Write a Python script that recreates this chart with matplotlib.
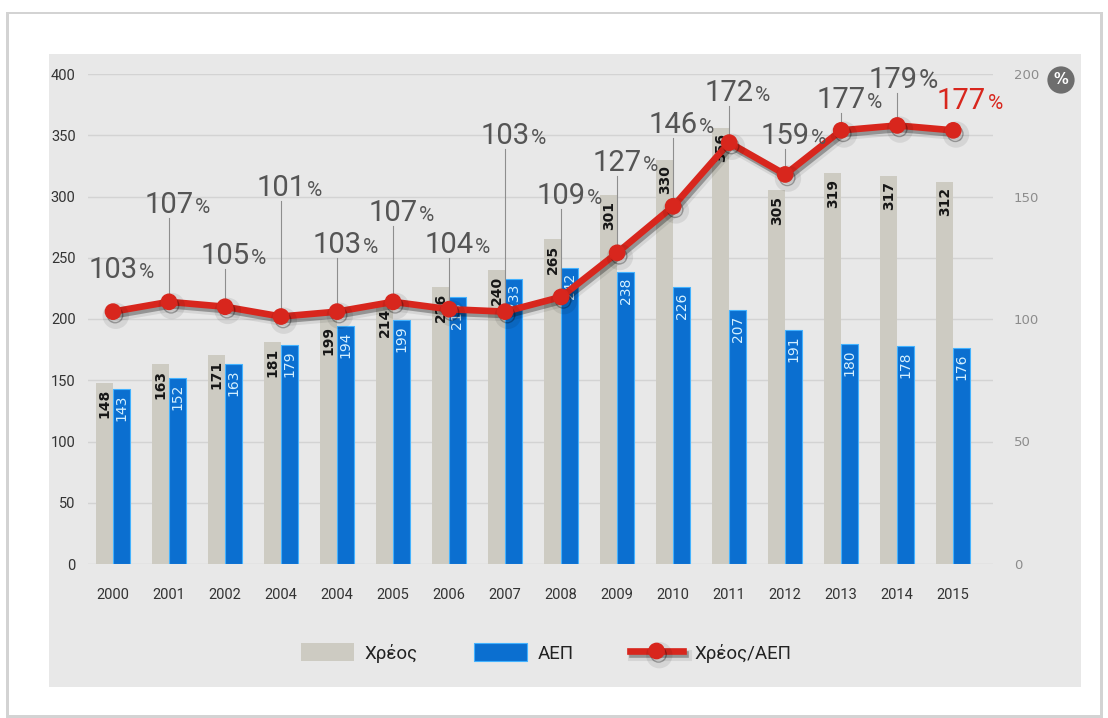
import matplotlib
matplotlib.use('Agg')
import matplotlib.pyplot as plt
import matplotlib.patheffects as pe
from matplotlib.patches import Rectangle, Patch
from matplotlib.lines import Line2D
import numpy as np

# Χρέος, ΑΕΠ (δισ. €) και λόγος Χρέος/ΑΕΠ (%)
years = ['2000', '2001', '2002', '2004', '2004', '2005', '2006', '2007',
         '2008', '2009', '2010', '2011', '2012', '2013', '2014', '2015']
debt = [148, 163, 171, 181, 199, 214, 226, 240, 265, 301, 330, 356, 305, 319, 317, 312]
gdp = [143, 152, 163, 179, 194, 199, 218, 233, 242, 238, 226, 207, 191, 180, 178, 176]
ratio = [103, 107, 105, 101, 103, 107, 104, 103, 109, 127, 146, 172, 159, 177, 179, 177]

# where each % label sits (baseline, on the % axis), sideways nudge in points,
# and the size of its "%" sign
label_base = [116.7, 143.3, 122.4, 150.2, 126.9, 140.0, 126.9, 171.4,
              146.9, 160.4, 175.9, 189.0, 171.4, 186.1, 194.3, 185.7]
label_dx = [0] * 14 + [-3, 6]
pct_size = [15] * 14 + [19, 15]

GREY_BAR = '#cdcbc2'
BLUE_BAR = '#0b6fd0'
RED = '#d8261d'
NARROW = ['Liberation Sans Narrow', 'Roboto', 'DejaVu Sans']
THIN = ['Roboto', 'DejaVu Sans']

W, H = 1108, 718
fig = plt.figure(figsize=(W / 100, H / 100), dpi=100)
fig.patch.set_facecolor('white')


def fx(px):
    return px / W


def fy(py):
    return 1 - py / H


def box(x0, y0, x1, y1, **kw):
    r = Rectangle((fx(x0), fy(y1)), fx(x1) - fx(x0), fy(y0) - fy(y1),
                  transform=fig.transFigure, zorder=-5, **kw)
    fig.patches.append(r)


# card with a faint shadow, then the grey panel
box(6, 12, 1103, 718, facecolor='#d3d3d3', edgecolor='none')
box(9, 14, 1100, 715, facecolor='white', edgecolor='none')
box(49, 54, 1081, 687, facecolor='#e8e8e8', edgecolor='none')

ax = fig.add_axes([fx(88), fy(564), (993 - 88) / W, (564 - 74) / H])
ax.set_facecolor('none')
x = np.arange(len(years))
bw = 0.30

ax.bar(x - bw / 2, debt, bw, color=GREY_BAR, zorder=2)
ax.bar(x + bw / 2, gdp, bw, color=BLUE_BAR, edgecolor='#43b2ff', linewidth=0.8, zorder=2)

for i, v in enumerate(debt):
    ax.annotate(str(v), (x[i] - bw / 2, v), xytext=(0, -4), textcoords='offset points',
                rotation=90, ha='center', va='top', fontsize=10, fontweight='bold',
                color='#161616', zorder=3)
for i, v in enumerate(gdp):
    ax.annotate(str(v), (x[i] + bw / 2, v), xytext=(0, -4), textcoords='offset points',
                rotation=90, ha='center', va='top', fontsize=10,
                color='#d4f0ff', zorder=3)

ax.set_xlim(-0.446, 15.71)
ax.set_ylim(0, 400)
ax.set_yticks(range(0, 401, 50))
ax.set_xticks(x)
ax.set_xticklabels(years)
ax.grid(axis='y', color='#d3d3d3', linewidth=1)
ax.set_axisbelow(True)
ax.tick_params(axis='both', length=0, colors='#333333', labelsize=10.5)
ax.tick_params(axis='x', pad=17)
ax.tick_params(axis='y', pad=9)
for lab in ax.get_xticklabels() + ax.get_yticklabels():
    lab.set_family(NARROW)
for s in ax.spines.values():
    s.set_visible(False)

# right-hand % axis with the ratio line
ax2 = ax.twinx()
ax2.set_ylim(0, 200)
ax2.set_yticks(range(0, 201, 50))
ax2.tick_params(axis='y', length=0, colors='#8c8c8c', labelsize=9.5, pad=15)
for s in ax2.spines.values():
    s.set_visible(False)

shadow = [pe.SimpleLineShadow(offset=(2, -3), shadow_color='black', alpha=0.08, linewidth=8),
          pe.SimpleLineShadow(offset=(1.5, -2.5), shadow_color='black', alpha=0.3),
          pe.Normal()]
ax2.plot(x, ratio, color=RED, linewidth=4.8, marker='o', markersize=11,
         zorder=5, path_effects=shadow)

for i in range(1, len(ratio) - 1):
    ax2.plot([x[i], x[i]], [ratio[i], label_base[i] - 2], color='#8e8e8e',
             linewidth=0.8, zorder=3)

for i, r in enumerate(ratio):
    c = RED if i == len(ratio) - 1 else '#555555'
    num = ax2.annotate(str(r), (x[i], label_base[i]), xytext=(label_dx[i], 0),
                       textcoords='offset points', ha='center', va='baseline',
                       fontsize=21, color=c, family=THIN,
                       annotation_clip=False, zorder=6)
    ax2.annotate('%', xy=(1, label_base[i]), xycoords=(num, 'data'),
                 xytext=(1, 0), textcoords='offset points', ha='left', va='baseline',
                 fontsize=pct_size[i], color=c, family=THIN,
                 annotation_clip=False, zorder=6)

fig.text(fx(1061), fy(80), '%', ha='center', va='center', color='white',
         fontsize=10.5, fontweight='bold',
         bbox=dict(boxstyle='circle,pad=0.42', fc='#6e6e6e', ec='none'))

handles = [Patch(facecolor=GREY_BAR, edgecolor='none'),
           Patch(facecolor=BLUE_BAR, edgecolor='#43b2ff', linewidth=0.8),
           Line2D([], [], color=RED, linewidth=4.8, marker='o', markersize=11,
                  path_effects=shadow)]
leg = fig.legend(handles, ['Χρέος', 'ΑΕΠ', 'Χρέος/ΑΕΠ'], loc='center',
                 bbox_to_anchor=(fx(546), fy(653)), ncol=3, frameon=False,
                 prop=dict(family=NARROW, size=13.5), handlelength=2.8,
                 handleheight=1.1, handletextpad=0.6, columnspacing=3.0)
for t in leg.get_texts():
    t.set_color('#222222')

fig.savefig('out.png', dpi=100, facecolor='white')
